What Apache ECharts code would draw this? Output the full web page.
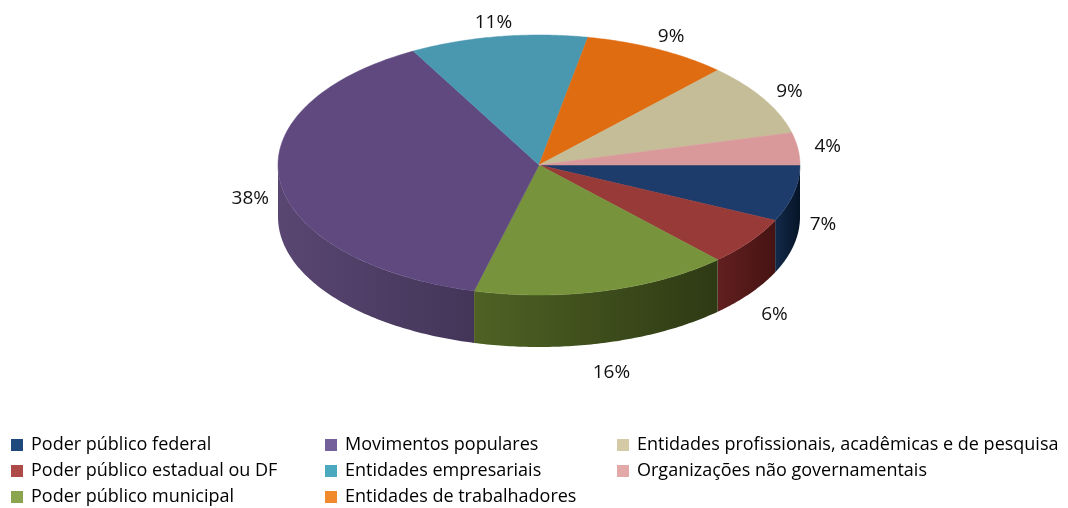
<!DOCTYPE html>
<html>
<head>
<meta charset="utf-8">
<script src="https://cdn.jsdelivr.net/npm/echarts@6/dist/echarts.min.js"></script>
<style>
  html, body { margin: 0; padding: 0; background: #fff; }
  #chart { width: 1068px; height: 508px; }
</style>
</head>
<body>
<div id="chart"></div>
<script>
// data
var categories = [
  "Poder público federal",
  "Poder público estadual ou DF",
  "Poder público municipal",
  "Movimentos populares",
  "Entidades empresariais",
  "Entidades de trabalhadores",
  "Entidades profissionais, acadêmicas e de pesquisa",
  "Organizações não governamentais"
];
var values = [7, 6, 16, 38, 11, 9, 9, 4];

// colours: top face, wall (light/dark), legend swatch
var topColors = ["#1d3c6b", "#973a38", "#77933c", "#5f497f", "#4a97b0", "#e06c12", "#c5bd97", "#d9999a"];
var wallLight = ["#132a4a", "#621f1f", "#4f6224", "#594672", "#2f6475", "#93470c", "#837e63", "#8f6564"];
var wallDark  = ["#061427", "#461313", "#2e3a14", "#433558", "#1f4350", "#63300a", "#5a5644", "#634545"];
var legendColors = ["#1f497d", "#ac4b48", "#8ba54f", "#74609a", "#4aa8bf", "#f08a2c", "#d4cba6", "#e3a9a8"];

var chart = echarts.init(document.getElementById("chart"));

var total = values.reduce(function (a, b) { return a + b; }, 0);
var cum = 0;
var ranges = values.map(function (v) {
  var r = [cum / total, (cum + v) / total, v];
  cum += v;
  return r;
});

var CX = 539, CY = 165, RX = 261, RY = 130, DEPTH = 52;

function pt(t, dy) {
  return [CX + RX * Math.cos(t), CY + RY * Math.sin(t) + (dy || 0)];
}

function makeRender(idx) {
  return function (params, api) {
    var a0 = api.value(0) * Math.PI * 2;
    var a1 = api.value(1) * Math.PI * 2;
    var pct = api.value(2);
    var children = [];
    var steps = 80;

    // front wall (only the part between 0 and PI is visible)
    var w0 = Math.max(a0, 0), w1 = Math.min(a1, Math.PI);
    if (w1 > w0) {
      var top = [], bottom = [];
      for (var i = 0; i <= steps; i++) {
        var t = w0 + (w1 - w0) * i / steps;
        top.push(pt(t));
        bottom.push(pt(t, DEPTH));
      }
      children.push({
        type: "polygon",
        shape: { points: top.concat(bottom.reverse()) },
        style: {
          fill: new echarts.graphic.LinearGradient(0, 0, 1, 0, [
            { offset: 0, color: wallLight[idx] },
            { offset: 1, color: wallDark[idx] }
          ]),
          stroke: null
        }
      });
    }

    // top face
    var pts = [[CX, CY]];
    for (var j = 0; j <= steps; j++) {
      pts.push(pt(a0 + (a1 - a0) * j / steps));
    }
    children.push({
      type: "polygon",
      shape: { points: pts },
      style: { fill: topColors[idx], stroke: topColors[idx], lineWidth: 0.5 }
    });

    // label outside the slice
    var m = (a0 + a1) / 2;
    var s = Math.sin(m);
    var lx = CX + (RX + 30) * Math.cos(m);
    var ly = s > 0
      ? CY + (RY + 22) * s + 60 * Math.min(1, 2 * s)
      : CY + (RY + 14) * s;
    children.push({
      type: "text",
      x: lx,
      y: ly,
      style: {
        text: pct + "%",
        fill: "#111",
        font: "19px 'Open Sans'",
        align: "center",
        verticalAlign: "middle"
      }
    });

    return { type: "group", children: children };
  };
}

var series = categories.map(function (name, i) {
  return {
    name: name,
    type: "custom",
    coordinateSystem: "none",
    silent: true,
    itemStyle: { color: legendColors[i] },
    renderItem: makeRender(i),
    data: [ranges[i]]
  };
});

function legendCol(names, left) {
  return {
    orient: "vertical",
    left: left,
    top: 436,
    height: 80,
    padding: 0,
    itemWidth: 12,
    itemHeight: 12,
    itemGap: 8,
    icon: "rect",
    selectedMode: false,
    data: names,
    textStyle: {
      fontFamily: "Open Sans",
      fontSize: 18,
      color: "#000",
      padding: [0, 0, 0, 3]
    }
  };
}

var option = {
  animation: false,
  legend: [
    legendCol(categories.slice(0, 3), 11),
    legendCol(categories.slice(3, 6), 325),
    legendCol(categories.slice(6, 8), 617)
  ],
  series: series
};

chart.setOption(option);
window.addEventListener("resize", function () {
  chart.resize();
});
</script>
</body>
</html>
